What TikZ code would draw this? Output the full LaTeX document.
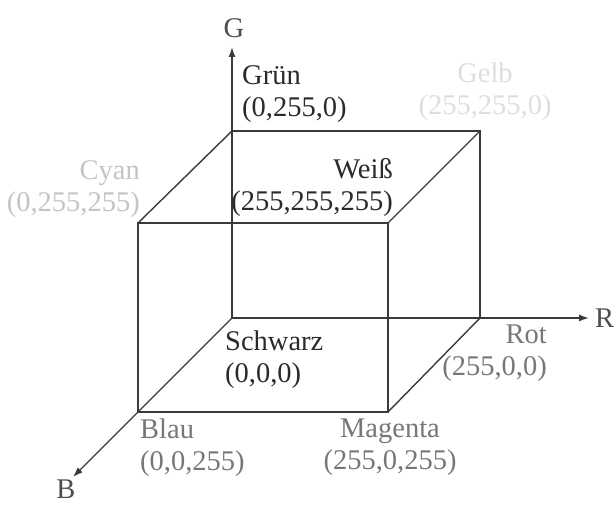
\documentclass[tikz,border=0pt]{standalone}
\usepackage{fontspec}
\setmainfont{Liberation Serif}
\usetikzlibrary{arrows.meta,positioning}

\definecolor{inkdark}{HTML}{2A2A2A}
\definecolor{inkline}{HTML}{3A3A3A}
\definecolor{inkaxis}{HTML}{4E4E4E}
\definecolor{inkmid}{HTML}{777777}
\definecolor{inklight}{HTML}{C4C4C4}
\definecolor{inkfaint}{HTML}{DEDEDE}

\begin{document}
\begin{tikzpicture}[x=1bp,y=1bp,font=\fontsize{28.5bp}{32bp}\selectfont,
  edge/.style={draw=inkline,line width=1.4bp},
  axis/.style={edge,-{Latex[length=10bp,width=7bp]}},
  lbl/.style={inner sep=0pt,text=#1}]
\useasboundingbox (0,0) rectangle (614,506);
% corners of the cube
\coordinate (schwarz) at (232,188);
\coordinate (rot) at (480,188);
\coordinate (gruen) at (232,375);
\coordinate (gelb) at (480,375);
\coordinate (blau) at (138,94);
\coordinate (magenta) at (388,94);
\coordinate (cyan) at (138,283);
\coordinate (weiss) at (388,283);
% axis tips
\coordinate (gtip) at (232,459);
\coordinate (rtip) at (589,188);
\coordinate (btip) at (73,29);
% axes
\draw[axis] (schwarz) -- (gtip);
\draw[axis] (schwarz) -- (rtip);
\draw[axis] (schwarz) -- (btip);
% cube edges
\draw[edge] (gruen) -- (gelb) -- (rot);
\draw[edge] (cyan) -- (weiss) -- (magenta) -- (blau) -- cycle;
\draw[edge] (gruen) -- (cyan);
\draw[edge] (gelb) -- (weiss);
\draw[edge] (rot) -- (magenta);
% axis names
\node[lbl=inkaxis,above=9bp of gtip,xshift=2bp] (glab) {G};
\node[lbl=inkaxis,right=6bp of rtip] (rlab) {R};
\node[lbl=inkaxis,below=3bp of btip,xshift=-7bp] (blab) {B};
% corner labels
\node[lbl=inkdark,align=left,above right=8bp and 10bp of gruen] (gruenlab) {Grün\\(0,255,0)};
\node[lbl=inkfaint,align=center,above=10bp of gelb,xshift=5bp] (gelblab) {Gelb\\(255,255,0)};
\node[lbl=inklight,align=right,anchor=south east,xshift=2bp,yshift=5bp] (cyanlab) at (cyan) {Cyan\\(0,255,255)};
\node[lbl=inkdark,align=right,anchor=south east,xshift=5bp,yshift=6bp] (weisslab) at (weiss) {Weiß\\(255,255,255)};
\node[lbl=inkdark,align=left,anchor=north west,xshift=-7bp,yshift=-13bp] (schwarzlab) at (schwarz) {Schwarz\\(0,0,0)};
\node[lbl=inkmid,align=right,anchor=north east,xshift=67bp,yshift=-7bp] (rotlab) at (rot) {Rot\\(255,0,0)};
\node[lbl=inkmid,align=left,below right=7bp and 2bp of blau] (blaulab) {Blau\\(0,0,255)};
\node[lbl=inkmid,align=center,below=7bp of magenta,xshift=2bp] (magentalab) {Magenta\\(255,0,255)};
\end{tikzpicture}
\end{document}
